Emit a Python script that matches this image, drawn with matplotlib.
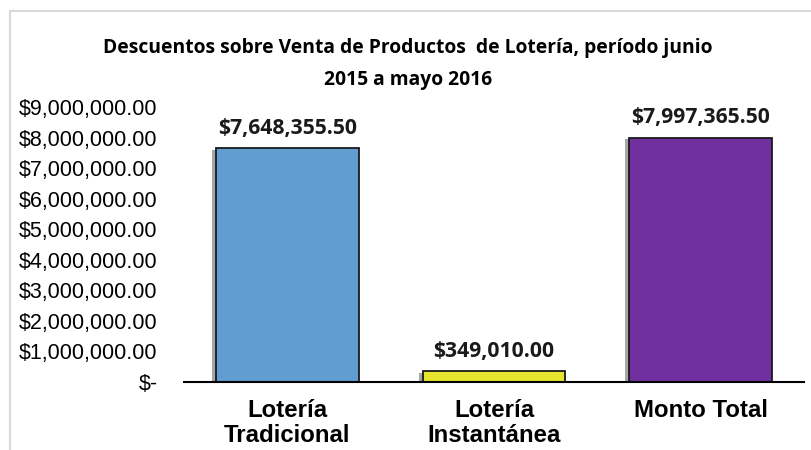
import matplotlib.pyplot as plt
import matplotlib.patheffects as pe
from matplotlib.lines import Line2D
from matplotlib.ticker import FuncFormatter

categories = ["Lotería\nTradicional", "Lotería\nInstantánea", "Monto Total"]
values = [7648355.50, 349010.00, 7997365.50]
colors = ["#609ED2", "#E6E62E", "#7030A0"]
title = "Descuentos sobre Venta de Productos  de Lotería, período junio\n2015 a mayo 2016"
y_ticks = [0, 1e6, 2e6, 3e6, 4e6, 5e6, 6e6, 7e6, 8e6, 9e6]


def money(v, pos=None):
    if v == 0:
        return "$-"
    return f"${v:,.2f}"


fig = plt.figure(figsize=(8.12, 4.5), dpi=100)
ax = fig.add_axes([184 / 812, 1 - 382 / 450, 620 / 812, (382 - 107) / 450])

x = range(len(values))
bars = ax.bar(x, values, width=0.69, color=colors, edgecolor="#1a1a1a", linewidth=1.3)
for b in bars:
    b.set_path_effects([
        pe.SimplePatchShadow(offset=(-3, -1), shadow_rgbFace="black", alpha=0.35),
        pe.Normal(),
    ])

for xi, v in zip(x, values):
    ax.annotate(money(v), (xi, v), xytext=(0, 7), textcoords="offset points",
                ha="center", va="bottom", fontsize=15.2, fontweight="bold",
                family="Open Sans", color="#1a1a1a")

ax.set_xlim(-0.5, 2.5)
ax.set_ylim(0, 9e6)
ax.set_yticks(y_ticks)
ax.yaxis.set_major_formatter(FuncFormatter(money))
ax.set_xticks(list(x))
ax.set_xticklabels(categories, fontsize=17.3, fontweight="bold", family="Liberation Sans",
                   linespacing=1.15)
for lbl in ax.get_yticklabels():
    lbl.set_family("Liberation Sans")
    lbl.set_fontsize(15.5)
ax.tick_params(axis="y", length=0, pad=19)
ax.tick_params(axis="x", length=0, pad=12)

for s in ["top", "right", "left"]:
    ax.spines[s].set_visible(False)
ax.spines["bottom"].set_linewidth(1.5)
ax.spines["bottom"].set_color("#000000")

fig.text(408 / 812, 1 - 64 / 450, title, ha="center", va="center", fontsize=13.9,
         fontweight="bold", family="Open Sans", linespacing=1.75)

# chart area border (top and left visible)
fig.add_artist(Line2D([10 / 812, 1], [1 - 11 / 450] * 2, color="#D9D9D9", lw=1.5,
                      transform=fig.transFigure))
fig.add_artist(Line2D([10 / 812] * 2, [0, 1 - 11 / 450], color="#D9D9D9", lw=1.5,
                      transform=fig.transFigure))

fig.savefig("out.png", dpi=100)
